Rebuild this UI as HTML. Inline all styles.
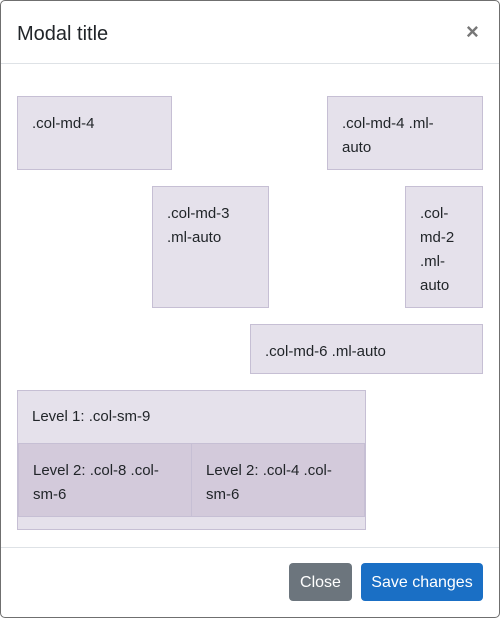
<!DOCTYPE html>
<html><head><style>
body{margin:0;width:500px;height:618px;background:#fff;font-family:"Liberation Sans",sans-serif;color:#212529;position:relative;overflow:hidden}
.modal{position:absolute;left:0;top:0;width:498px;height:616px;border:1px solid #6f6f6f;border-radius:5px}
.b{position:absolute;box-sizing:border-box;background:#e5e1eb;border:1px solid #c6bfd4;font-size:15px;line-height:24px;padding:15px 14px 11px}
.in{background:#d3cadb}
.hr{position:absolute;left:1px;width:498px;height:1px;background:#dee2e6}
.btn{position:absolute;top:563px;height:38px;border-radius:4px;color:#fff;font-size:16px;line-height:40px;text-align:center}
</style></head><body>
<div class="modal"></div>
<div style="position:absolute;left:17px;top:21px;font-size:20px;line-height:26px">Modal title</div>
<div style="position:absolute;left:466px;top:19px;font-size:22px;font-weight:bold;color:#777;line-height:26px">×</div>
<div class="hr" style="top:63px"></div>
<div class="b" style="left:17px;top:96px;width:155px;height:74px">.col-md-4</div>
<div class="b" style="left:327px;top:96px;width:156px;height:74px">.col-md-4 .ml-<br>auto</div>
<div class="b" style="left:152px;top:186px;width:117px;height:122px">.col-md-3<br>.ml-auto</div>
<div class="b" style="left:405px;top:186px;width:78px;height:122px">.col-<br>md-2<br>.ml-<br>auto</div>
<div class="b" style="left:250px;top:324px;width:233px;height:50px;padding-top:15px">.col-md-6 .ml-auto</div>
<div class="b" style="left:17px;top:390px;width:349px;height:140px;padding-top:14px">Level 1: .col-sm-9</div>
<div class="b in" style="left:18px;top:443px;width:174px;height:74px">Level 2: .col-8 .col-<br>sm-6</div>
<div class="b in" style="left:191px;top:443px;width:174px;height:74px">Level 2: .col-4 .col-<br>sm-6</div>
<div class="hr" style="top:547px"></div>
<div class="btn" style="left:289px;width:63px;background:#6c757d">Close</div>
<div class="btn" style="left:361px;width:122px;background:#1a6fc5">Save changes</div>
</body></html>
